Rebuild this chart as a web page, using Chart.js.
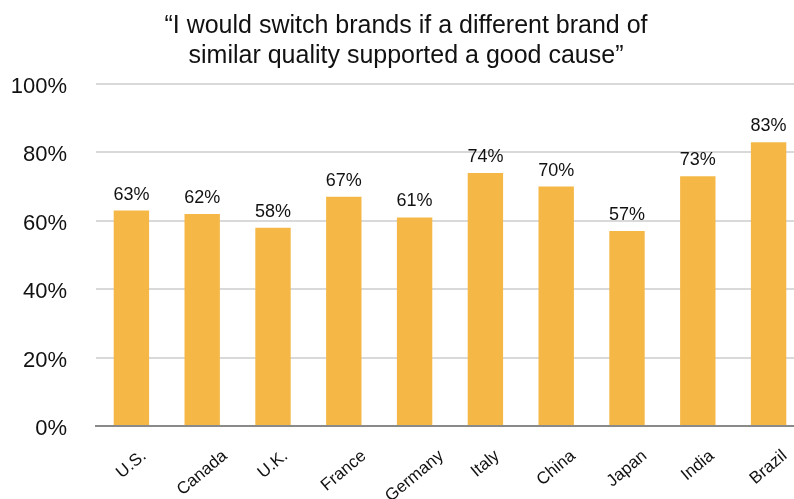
<!DOCTYPE html>
<html>
<head>
<meta charset="utf-8">
<script src="https://cdn.jsdelivr.net/npm/chart.js@4"></script>
<style>
  html, body { margin: 0; padding: 0; background: #fff; overflow: hidden; }
  #wrap { width: 794px; height: 499px; overflow: hidden; }
</style>
</head>
<body>
<div id="wrap"><canvas id="grafico" width="804" height="499"></canvas></div>
<script>
const paises = ["U.S.", "Canada", "U.K.", "France", "Germany", "Italy", "China", "Japan", "India", "Brazil"]
const valores = [63, 62, 58, 67, 61, 74, 70, 57, 73, 83]
const tituloLinhas = ["\u201cI would switch brands if a different brand of", "similar quality supported a good cause\u201d"]
const ticksY = [0, 20, 40, 60, 80, 100]

const fonte = "'Liberation Sans', Arial, Helvetica, sans-serif"

// rotulos de valor em cima de cada barra
const rotulosBarras = {
    id: 'rotulosBarras',
    afterDatasetsDraw(chart) {
        const ctx = chart.ctx
        ctx.save()
        ctx.font = `18px ${fonte}`
        ctx.fillStyle = '#111'
        ctx.textAlign = 'center'
        ctx.textBaseline = 'alphabetic'
        chart.getDatasetMeta(0).data.forEach((barra, i) => {
            ctx.fillText(`${valores[i]}%`, barra.x, barra.y - 11)
        })
        ctx.restore()
    }
}

// rotulos inclinados do eixo x centralizados na barra (o chart.js ancora pela ponta)
const centralizarRotulosX = {
    id: 'centralizarRotulosX',
    beforeDraw(chart) {
        const escala = chart.scales.x
        const ctx = chart.ctx
        const ang = escala.labelRotation * Math.PI / 180
        ctx.save()
        escala.getLabelItems().forEach(item => {
            if (item._centralizado) return
            ctx.font = item.font.string
            const w = ctx.measureText(item.label).width
            item.options.translation[0] += w / 2 * Math.cos(ang)
            item._centralizado = true
        })
        ctx.restore()
    }
}

let myChartMarcas = new Chart(
    document.getElementById("grafico"),
    {
        type: "bar",
        data: {
            labels: paises,
            datasets: [
                {
                    label: "",
                    data: valores,
                    backgroundColor: "#F5B847",
                    barPercentage: 0.5,
                    categoryPercentage: 1,
                },
            ]
        },
        options: {
            responsive: false,
            animation: false,
            layout: { padding: { left: 8, right: 0, top: 0, bottom: 0 } },
            plugins: {
                legend: { display: false },
                tooltip: { enabled: false },
                title: {
                    display: true,
                    text: tituloLinhas,
                    color: '#111',
                    font: { family: fonte, size: 25, weight: 'normal', lineHeight: 1.2 },
                    padding: { top: 11, bottom: 13 }
                }
            },
            scales: {
                x: {
                    grid: { display: false },
                    border: { display: true, color: '#8a8a8a', width: 2 },
                    ticks: {
                        color: '#111',
                        font: { family: fonte, size: 17 },
                        minRotation: 40,
                        maxRotation: 40,
                        autoSkip: false,
                        labelOffset: 0,
                        padding: 12
                    },
                    afterFit: scale => { scale.height = 73 }
                },
                y: {
                    min: 0,
                    max: 100,
                    afterBuildTicks: scale => { scale.ticks = ticksY.map(v => ({ value: v })) },
                    grid: { color: '#d9d9d9', lineWidth: 2, drawTicks: false },
                    border: { display: false },
                    ticks: {
                        color: '#111',
                        font: { family: fonte, size: 22 },
                        padding: 29,
                        labelOffset: 3,
                        callback: v => `${v}%`
                    },
                    afterFit: scale => { scale.width = 88 }
                }
            }
        },
        plugins: [rotulosBarras, centralizarRotulosX]
    }
)
</script>
</body>
</html>
